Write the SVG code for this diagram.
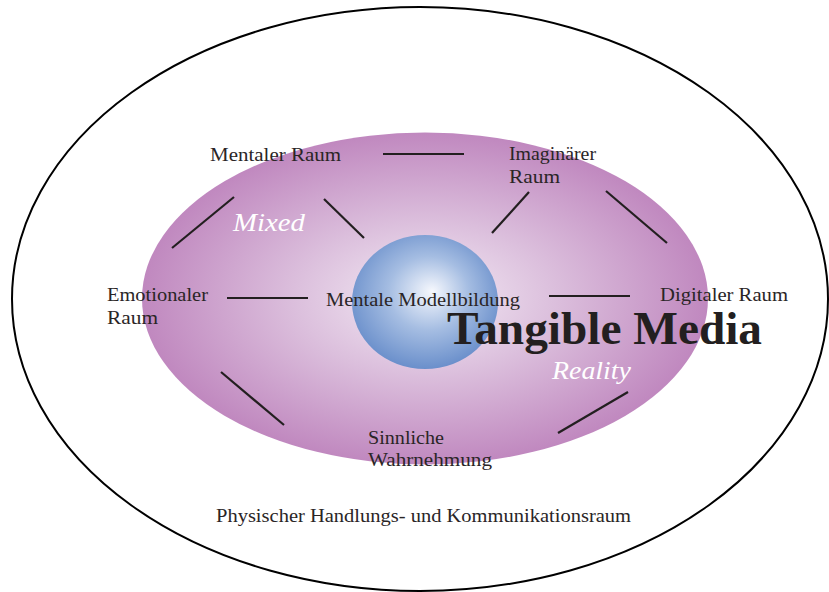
<svg xmlns="http://www.w3.org/2000/svg" width="829" height="592" viewBox="0 0 829 592">
<defs>
<radialGradient id="gPurple" cx="0.5" cy="0.5" r="0.5">
<stop offset="0" stop-color="#f4ecf5"/>
<stop offset="0.45" stop-color="#dcc0dd"/>
<stop offset="1" stop-color="#c088bf"/>
</radialGradient>
<radialGradient id="gBlue" cx="0.5" cy="0.45" r="0.55" fx="0.55" fy="0.42">
<stop offset="0" stop-color="#f6f8fd"/>
<stop offset="0.5" stop-color="#a5bde2"/>
<stop offset="1" stop-color="#6a8fcb"/>
</radialGradient>
</defs>
<style>
.lbl{font-family:"Liberation Serif","DejaVu Serif",serif;font-size:18px;fill:#2a2526}
.big{font-family:"Liberation Serif","DejaVu Serif",serif;font-size:46px;font-weight:bold;fill:#231f20}
.it{font-family:"Liberation Serif","DejaVu Serif",serif;font-size:25px;font-style:italic;fill:#ffffff}
.conn line{stroke:#231f20;stroke-width:2.2;stroke-linecap:butt}
</style>
<rect width="829" height="592" fill="#ffffff"/>
<g id="outer">
<ellipse cx="420" cy="299" rx="408" ry="292" fill="none" stroke="#000" stroke-width="2"/>
<text class="lbl" x="216" y="522" textLength="415" lengthAdjust="spacingAndGlyphs">Physischer Handlungs- und Kommunikationsraum</text>
</g>
<g id="mixed-reality">
<ellipse cx="425" cy="298.5" rx="283" ry="166" fill="url(#gPurple)"/>
<text class="it" x="233" y="231" textLength="72" lengthAdjust="spacingAndGlyphs">Mixed</text>
<text class="it" x="552" y="379" textLength="79" lengthAdjust="spacingAndGlyphs">Reality</text>
</g>
<g id="core">
<ellipse cx="425" cy="302" rx="73" ry="67" fill="url(#gBlue)"/>
</g>
<g class="conn" id="connectors">
<line x1="383" y1="154" x2="464" y2="154"/>
<line x1="234" y1="197" x2="172" y2="248"/>
<line x1="324" y1="199" x2="364" y2="238"/>
<line x1="529" y1="192" x2="492" y2="233"/>
<line x1="606" y1="191" x2="667" y2="243"/>
<line x1="227" y1="298" x2="308" y2="298"/>
<line x1="549" y1="296" x2="630" y2="296"/>
<line x1="221" y1="372" x2="284" y2="425"/>
<line x1="628" y1="392" x2="558" y2="433"/>
</g>
<g id="mentaler-raum"><text class="lbl" x="210" y="161" textLength="131" lengthAdjust="spacingAndGlyphs">Mentaler Raum</text></g>
<g id="imaginaerer-raum"><text class="lbl" x="509" y="160" textLength="87" lengthAdjust="spacingAndGlyphs">Imaginärer</text><text class="lbl" x="509" y="183" textLength="51" lengthAdjust="spacingAndGlyphs">Raum</text></g>
<g id="emotionaler-raum"><text class="lbl" x="107" y="301" textLength="101" lengthAdjust="spacingAndGlyphs">Emotionaler</text><text class="lbl" x="107" y="324" textLength="51" lengthAdjust="spacingAndGlyphs">Raum</text></g>
<g id="mentale-modellbildung"><text class="lbl" x="326" y="306" textLength="194" lengthAdjust="spacingAndGlyphs">Mentale Modellbildung</text></g>
<g id="digitaler-raum"><text class="lbl" x="660" y="301" textLength="128" lengthAdjust="spacingAndGlyphs">Digitaler Raum</text></g>
<g id="sinnliche-wahrnehmung"><text class="lbl" x="368" y="444" textLength="76" lengthAdjust="spacingAndGlyphs">Sinnliche</text><text class="lbl" x="368" y="466" textLength="124" lengthAdjust="spacingAndGlyphs">Wahrnehmung</text></g>
<g id="title"><text class="big" x="447" y="344" textLength="315" lengthAdjust="spacingAndGlyphs">Tangible Media</text></g>
</svg>
